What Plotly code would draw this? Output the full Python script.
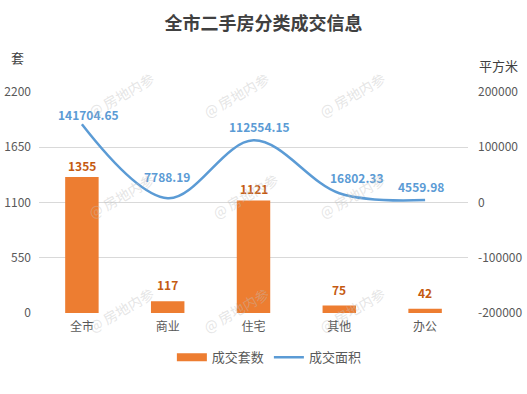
import plotly.graph_objects as go

categories = ["全市", "商业", "住宅", "其他", "办公"]
units_sold = [1355, 117, 1121, 75, 42]
area_sold = [141704.65, 7788.19, 112554.15, 16802.33, 4559.98]
area_labels = ["141704.65", "7788.19", "112554.15", "16802.33", "4559.98"]
left_ticks = [0, 550, 1100, 1650, 2200]
right_ticks = [-200000, -100000, 0, 100000, 200000]

FONT = "Noto Sans CJK SC, Microsoft YaHei, sans-serif"
ORANGE = "#ED7D31"
ORANGE_TXT = "#C55A11"
BLUE = "#5B9BD5"
GRAY = "#595959"

fig = go.Figure()
fig.add_trace(go.Bar(
    x=categories, y=units_sold, name="成交套数", showlegend=False,
    marker=dict(color=ORANGE, line=dict(width=0)), width=0.39,
))
# legend-only entry with a wide orange swatch
fig.add_trace(go.Scatter(
    x=[None], y=[None], name="成交套数", mode="lines",
    line=dict(color=ORANGE, width=8),
))
fig.add_trace(go.Scatter(
    x=categories, y=area_sold, name="成交面积", yaxis="y2",
    mode="lines", line=dict(color=BLUE, width=2.5, shape="spline", smoothing=1.0),
))

# bar value labels
bar_yshift = [11, 17, 12, 16, 16]
for c, v, ys in zip(categories, units_sold, bar_yshift):
    fig.add_annotation(x=c, y=v, yref="y", text="<b>%d</b>" % v, showarrow=False,
                       yshift=ys, yanchor="middle",
                       font=dict(family=FONT, size=12, color=ORANGE_TXT))

# line value labels
xshifts = [7, -1, 6, 17, -4]
yshifts = [10, 22, 14, 16, 13]
for c, v, t, xs, ys in zip(categories, area_sold, area_labels, xshifts, yshifts):
    fig.add_annotation(x=c, y=v, yref="y2", text="<b>%s</b>" % t, showarrow=False,
                       xshift=xs, yshift=ys,
                       font=dict(family=FONT, size=12, color=BLUE))

# watermarks
wm_pos = [(0.10, 1.12), (0.46, 1.12), (0.82, 1.12),
          (0.10, 0.53), (0.48, 0.53), (0.82, 0.53),
          (0.10, -0.12), (0.46, -0.12), (0.82, -0.12)]
for xp, yp in wm_pos:
    fig.add_annotation(x=xp, y=yp, xref="paper", yref="paper", text="@ 房地内参",
                       showarrow=False, textangle=-30,
                       font=dict(family=FONT, size=14, color="rgba(190,190,190,0.4)"))

fig.add_annotation(x=-0.051, y=1.154, xref="paper", yref="paper", text="套", showarrow=False,
                   xanchor="center", yanchor="middle",
                   font=dict(family=FONT, size=13, color="#404040"))
fig.add_annotation(x=1.07, y=1.122, xref="paper", yref="paper", text="平方米", showarrow=False,
                   xanchor="center", yanchor="middle",
                   font=dict(family=FONT, size=13, color="#404040"))

fig.update_layout(
    width=527, height=394,
    margin=dict(l=39, r=59, t=92, b=81, autoexpand=False),
    paper_bgcolor="white", plot_bgcolor="white",
    title=dict(text="<b>全市二手房分类成交信息</b>", x=0.5, xanchor="center", y=0.94, yanchor="middle",
               font=dict(family=FONT, size=18, color="#404040")),
    font=dict(family=FONT, size=12, color=GRAY),
    xaxis=dict(showgrid=False, showline=False, zeroline=False, ticks="",
               tickfont=dict(size=12, color=GRAY), automargin=False, ticklabelstandoff=5),
    yaxis=dict(range=[0, 2200], tickvals=left_ticks, showgrid=True, gridcolor="#D9D9D9",
               gridwidth=1, zeroline=False, showline=False, ticks="",
               tickfont=dict(size=12, color=GRAY), ticklabelstandoff=7, automargin=False),
    yaxis2=dict(range=[-200000, 200000], tickvals=right_ticks,
                ticktext=[str(v) for v in right_ticks], overlaying="y", side="right",
                showgrid=False, zeroline=False, showline=False, ticks="",
                tickfont=dict(size=12, color=GRAY), ticklabelstandoff=9, automargin=False),
    legend=dict(orientation="h", x=0.537, xanchor="center", y=-0.2, yanchor="middle",
                font=dict(family=FONT, size=13, color=GRAY), itemwidth=30,
                bgcolor="rgba(0,0,0,0)"),
    showlegend=True,
    bargap=0.6,
)

fig.write_html("out.html", config={"displayModeBar": False},
               post_script="document.body.style.margin='0';document.body.style.padding='0';")
